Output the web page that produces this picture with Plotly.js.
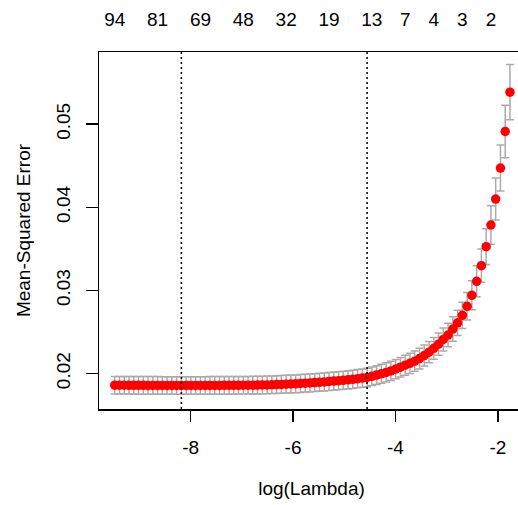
<!DOCTYPE html>
<html>
<head>
<meta charset="utf-8">
<script src="https://cdn.plot.ly/plotly-3.0.1.min.js"></script>
<style>
  html, body { margin: 0; padding: 0; overflow: hidden; background: #fff; }
  #chart { width: 530px; height: 505px; }
</style>
</head>
<body>
<div id="chart"></div>
<script>
// log(lambda) values of the fitted path (ascending)
const logLambda = [
  -9.483, -9.390, -9.297, -9.204, -9.111, -9.018, -8.925, -8.832, -8.739, -8.646,
  -8.553, -8.460, -8.367, -8.274, -8.181, -8.088, -7.995, -7.902, -7.809, -7.716,
  -7.623, -7.530, -7.437, -7.344, -7.251, -7.158, -7.065, -6.972, -6.879, -6.786,
  -6.693, -6.600, -6.507, -6.414, -6.321, -6.228, -6.135, -6.042, -5.949, -5.856,
  -5.763, -5.670, -5.577, -5.484, -5.391, -5.298, -5.205, -5.112, -5.019, -4.926,
  -4.833, -4.740, -4.647, -4.554, -4.461, -4.368, -4.275, -4.182, -4.089, -3.996,
  -3.903, -3.810, -3.717, -3.624, -3.531, -3.438, -3.345, -3.252, -3.159, -3.066,
  -2.973, -2.880, -2.787, -2.694, -2.601, -2.508, -2.415, -2.322, -2.229, -2.136,
  -2.043, -1.950, -1.857, -1.764
];

// cross-validated mean-squared error
const cvm = [
  0.018594, 0.018591, 0.018588, 0.018584, 0.018582, 0.018578, 0.018575, 0.018572, 0.018570, 0.018566,
  0.018564, 0.018561, 0.018560, 0.018559, 0.018558, 0.018558, 0.018559, 0.018560, 0.018562, 0.018565,
  0.018567, 0.018570, 0.018572, 0.018576, 0.018579, 0.018582, 0.018585, 0.018589, 0.018594, 0.018600,
  0.018606, 0.018618, 0.018630, 0.018654, 0.018666, 0.018690, 0.018714, 0.018738, 0.018762, 0.018798,
  0.018834, 0.018870, 0.018906, 0.018942, 0.018990, 0.019038, 0.019087, 0.019135, 0.019183, 0.019243,
  0.019303, 0.019375, 0.019447, 0.019531, 0.019663, 0.019808, 0.019964, 0.020132, 0.020313, 0.020529,
  0.020757, 0.020998, 0.021226, 0.021490, 0.021803, 0.022163, 0.022572, 0.023029, 0.023534, 0.024099,
  0.024627, 0.025349, 0.026094, 0.027007, 0.028089, 0.029411, 0.031094, 0.032981, 0.035264, 0.037873,
  0.040998, 0.044724, 0.049123, 0.053858
];

// standard error of the CV estimate
const cvsd = [
  0.00106, 0.00106, 0.00106, 0.00106, 0.00106, 0.00106, 0.00106, 0.00106, 0.00106, 0.00106,
  0.00106, 0.00106, 0.00106, 0.00106, 0.00106, 0.00106, 0.00106, 0.00106, 0.00106, 0.00106,
  0.00106, 0.00106, 0.00106, 0.00106, 0.00106, 0.00106, 0.00106, 0.00106, 0.00106, 0.00106,
  0.00106, 0.00106, 0.00106, 0.00106, 0.00106, 0.00107, 0.00107, 0.00107, 0.00107, 0.00107,
  0.00107, 0.00108, 0.00108, 0.00108, 0.00108, 0.00109, 0.00109, 0.00109, 0.00109, 0.00110,
  0.00110, 0.00110, 0.00111, 0.00111, 0.00112, 0.00113, 0.00114, 0.00115, 0.00116, 0.00117,
  0.00118, 0.00120, 0.00121, 0.00123, 0.00125, 0.00127, 0.00129, 0.00132, 0.00135, 0.00139,
  0.00142, 0.00147, 0.00152, 0.00158, 0.00165, 0.00174, 0.00186, 0.00199, 0.00215, 0.00232,
  0.00252, 0.00277, 0.00315, 0.00333
];

// number of nonzero coefficients shown along the top axis
const nzIndex = [0, 9, 18, 27, 36, 45, 54, 61, 67, 73, 79];
const nzLabels = ["94", "81", "69", "48", "32", "19", "13", "7", "4", "3", "2"];

// lambda.min and lambda.1se positions (indices into logLambda)
const idxMin = 14;
const idx1se = 53;

const xTicks = [-8, -6, -4, -2];
const yTicks = [0.02, 0.03, 0.04, 0.05];
const yTickText = ["0.02", "0.03", "0.04", "0.05"];

const FONT = "Arial, 'Liberation Sans', sans-serif";
const FS = 19;

const traces = [
  {
    type: "scatter",
    mode: "markers",
    x: logLambda,
    y: cvm,
    xaxis: "x",
    yaxis: "y",
    marker: { color: "#FF0000", size: 9.5, line: { width: 0 } },
    error_y: {
      type: "data",
      array: cvsd,
      visible: true,
      color: "#AAAAAA",
      thickness: 1.5,
      width: 4
    },
    hoverinfo: "x+y",
    showlegend: false
  },
  {
    type: "scatter",
    mode: "markers",
    x: nzIndex.map(i => logLambda[i]),
    y: nzIndex.map(i => cvm[i]),
    xaxis: "x2",
    yaxis: "y",
    marker: { opacity: 0 },
    hoverinfo: "skip",
    showlegend: false
  }
];

const layout = {
  width: 530,
  height: 505,
  margin: { l: 99, r: 6, t: 52, b: 95.5 },
  paper_bgcolor: "#ffffff",
  plot_bgcolor: "#ffffff",
  font: { family: FONT, size: FS, color: "#000000" },
  showlegend: false,
  xaxis: {
    range: [-9.79, -1.49],
    tickmode: "array",
    tickvals: xTicks,
    ticktext: xTicks.map(String),
    ticks: "outside",
    ticklen: 11,
    tickwidth: 1.5,
    tickcolor: "#000",
    showline: true,
    linecolor: "#000",
    linewidth: 1.5,
    mirror: true,
    showgrid: false,
    zeroline: false,
    ticklabelstandoff: 10,
    tickfont: { family: FONT, size: FS },
    title: { text: "log(Lambda)", font: { family: FONT, size: FS }, standoff: 24 }
  },
  xaxis2: {
    overlaying: "x",
    matches: "x",
    side: "top",
    tickmode: "array",
    tickvals: nzIndex.map(i => logLambda[i]),
    ticktext: nzLabels,
    ticks: "",
    showline: false,
    showgrid: false,
    zeroline: false,
    ticklabelstandoff: 21,
    tickfont: { family: FONT, size: FS }
  },
  yaxis: {
    range: [0.01573, 0.05869],
    tickmode: "array",
    tickvals: yTicks,
    ticktext: yTickText,
    tickangle: -90,
    ticks: "outside",
    ticklen: 12,
    tickwidth: 1.5,
    tickcolor: "#000",
    showline: true,
    linecolor: "#000",
    linewidth: 1.5,
    mirror: true,
    showgrid: false,
    zeroline: false,
    ticklabelstandoff: 8,
    tickfont: { family: FONT, size: FS },
    title: { text: "Mean-Squared Error", font: { family: FONT, size: FS }, standoff: 17 }
  },
  shapes: [
    {
      type: "line", xref: "x", yref: "paper",
      x0: logLambda[idxMin], x1: logLambda[idxMin], y0: 0, y1: 1,
      line: { color: "#000", width: 1.5, dash: "2px,3px" }
    },
    {
      type: "line", xref: "x", yref: "paper",
      x0: logLambda[idx1se], x1: logLambda[idx1se], y0: 0, y1: 1,
      line: { color: "#000", width: 1.5, dash: "2px,3px" }
    }
  ]
};

Plotly.newPlot("chart", traces, layout, { displayModeBar: false, staticPlot: true });
</script>
</body>
</html>
